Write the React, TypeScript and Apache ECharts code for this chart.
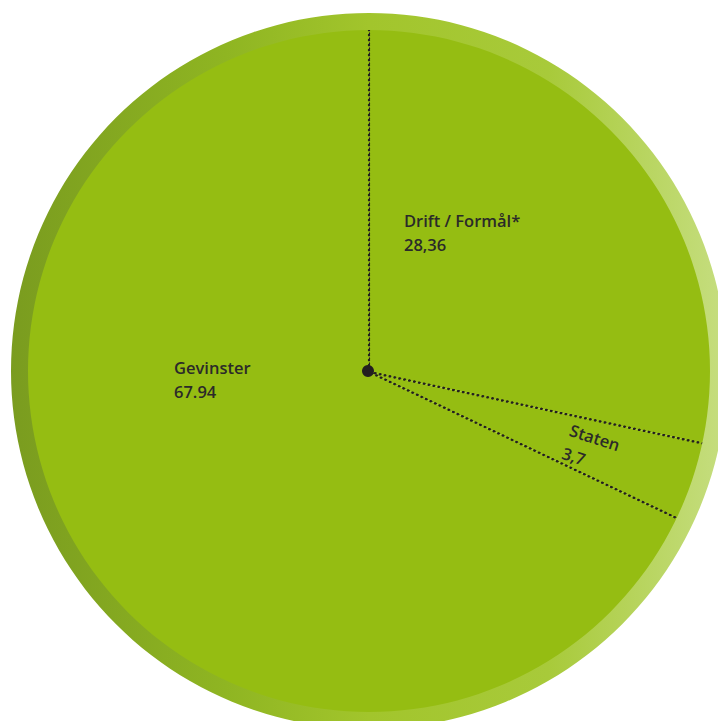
import React, { useEffect, useRef } from "react";
import * as echarts from "echarts";

const categories = ["Drift / Formål*", "Staten", "Gevinster"];
const values = [28.36, 3.7, 67.94];
const valueLabels = ["28,36", "3,7", "67.94"];

const CX = 369;
const CY = 372;
const R_IN = 344;
const R_OUT = 358;

export default function App() {
  const ref = useRef<HTMLDivElement>(null);
  useEffect(() => {
    const chart = echarts.init(ref.current!, undefined, { renderer: "svg" });
    const data = categories.map((name, i) => ({ name, value: values[i] }));
    const labelPos: Record<number, { x: number; y: number; rotate: number }> = {
      0: { x: 404, y: 208, rotate: 0 },
      1: { x: 574, y: 418, rotate: -18 },
      2: { x: 174, y: 355, rotate: 0 },
    };
    chart.setOption({
      animation: false,
      graphic: [
        {
          type: "ring",
          z: 100,
          shape: { cx: CX, cy: CY - 1, r: R_OUT, r0: R_IN - 3 },
          style: {
            fill: new echarts.graphic.LinearGradient(0, 0, 1, 0, [
              { offset: 0, color: "#7a9c1f" },
              { offset: 0.3, color: "#8fb522" },
              { offset: 0.5, color: "#a2c52c" },
              { offset: 0.75, color: "#a8ca3a" },
              { offset: 1, color: "#c6de80" },
            ]),
          },
        },
        {
          type: "circle",
          z: 101,
          shape: { cx: CX - 1, cy: CY - 1, r: 6 },
          style: { fill: "#231f20" },
        },
      ],
      series: [
        {
          type: "pie",
          center: [CX, CY],
          radius: [0, R_IN],
          startAngle: 90,
          clockwise: true,
          silent: true,
          itemStyle: {
            color: "#95bd12",
            borderColor: "#231f20",
            borderWidth: 2.3,
            borderType: [0.3, 4.7],
            borderCap: "round",
          },
          emphasis: { disabled: true },
          label: {
            show: true,
            position: "inside",
            formatter: (p: any) => `${p.name}\n${valueLabels[p.dataIndex]}`,
            color: "#2b2a29",
            fontFamily: "Open Sans",
            fontWeight: 600,
            fontSize: 16.5,
            lineHeight: 24,
            align: "left",
          },
          labelLine: { show: false },
          labelLayout: (p: any) => {
            const lp = labelPos[p.dataIndex];
            return { x: lp.x, y: lp.y, rotate: lp.rotate, align: "left", verticalAlign: "top" };
          },
          data,
        },
      ],
    });
    return () => chart.dispose();
  }, []);
  return (
    <div
      ref={ref}
      style={{ position: "fixed", left: 0, top: 0, width: 718, height: 721, background: "#fff" }}
    />
  );
}
